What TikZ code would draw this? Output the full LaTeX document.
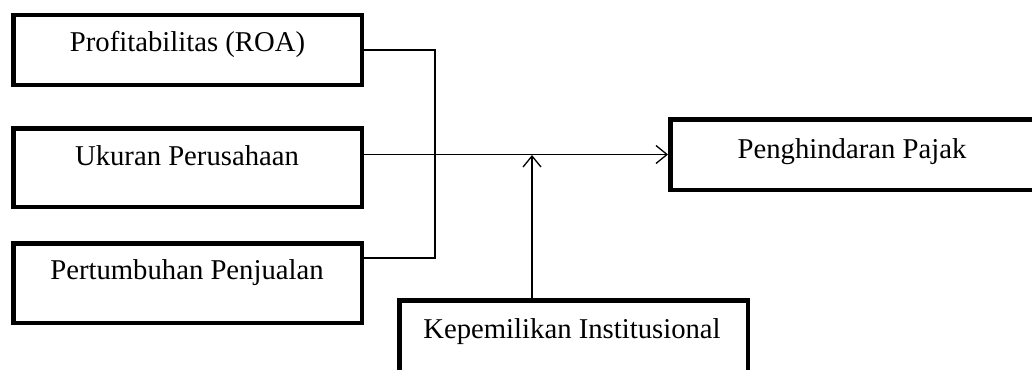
\documentclass[tikz,border=0pt]{standalone}
\usepackage{fontspec}
\setmainfont{Liberation Serif}
\usetikzlibrary{arrows.meta}
\begin{document}
\begin{tikzpicture}[x=1pt,y=-1pt,
  box/.style={draw,line width=4.5pt,inner sep=0pt,rectangle},
  lbl/.style={anchor=base,inner sep=0pt,font=\fontsize{28.7}{34}\selectfont},
  conn/.style={line width=1.3pt},
  tip/.style={-{Straight Barb[length=11pt,width=18pt]}}]
\useasboundingbox (0,0) rectangle (1032,369);
\clip (0,0) rectangle (1032,369);
% boxes
\node[box,minimum width=348.5pt,minimum height=69.5pt] (b1) at (187.5,50) {};
\node[box,minimum width=348.5pt,minimum height=78.5pt] (b2) at (187.5,167.5) {};
\node[box,minimum width=348.5pt,minimum height=79.5pt] (b3) at (187.5,283) {};
\node[box,minimum width=363.5pt,minimum height=70.5pt] (b4) at (852,154.5) {};
\node[box,minimum width=348.5pt,minimum height=75.5pt] (b5) at (573.5,338) {};
% labels
\node[lbl] (t1) at (187.5,52) {Profitabilitas (ROA)};
\node[lbl] (t2) at (187,165) {Ukuran Perusahaan};
\node[lbl] (t3) at (187,279) {Pertumbuhan Penjualan};
\node[lbl] (t4) at (852,158) {Penghindaran Pajak};
\node[lbl] (t5) at (572,338) {Kepemilikan Institusional};
% connectors
\coordinate (v) at (435,155);
\coordinate (m) at (532,155);
\draw[conn] (b1.east) -| (v) |- ([yshift=25pt]b3.east);
\draw[conn,tip] (b2.east |- b4.west) -- (b4.west);
\draw[conn,tip] (b5.north -| m) -- (m);
\end{tikzpicture}
\end{document}
